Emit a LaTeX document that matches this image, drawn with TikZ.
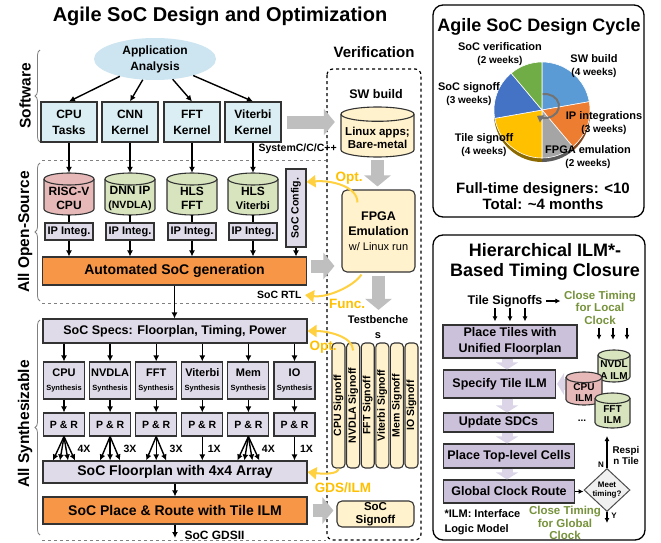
\documentclass[tikz,border=0pt]{standalone}
\usepackage{graphicx}
\usepackage{fontspec}
\setmainfont{Liberation Sans}
\usetikzlibrary{
    arrows.meta,
    positioning,
    calc,
    shapes.geometric,
    decorations.pathreplacing
}

\definecolor{swfill}{HTML}{DAEEF3}
\definecolor{appfill}{HTML}{CDE5F0}
\definecolor{cpufill}{HTML}{E6B9B8}
\definecolor{ipfill}{HTML}{D7E4BD}
\definecolor{lavfill}{HTML}{DFDBE8}
\definecolor{genfill}{HTML}{F79646}
\definecolor{verfill}{HTML}{FFF2CC}
\definecolor{grayarr}{HTML}{BFBFBF}
\definecolor{optcol}{HTML}{FFC000}
\definecolor{ilmfill}{HTML}{CCC1DA}
\definecolor{ilmarr}{HTML}{DCD5E8}
\definecolor{closecol}{HTML}{77933C}
\definecolor{pieA}{HTML}{5B9BD5}
\definecolor{pieB}{HTML}{ED7D31}
\definecolor{pieC}{HTML}{A5A5A5}
\definecolor{pieD}{HTML}{FFC000}
\definecolor{pieE}{HTML}{4472C4}
\definecolor{pieF}{HTML}{70AD47}

\newcommand{\fsz}[2]{\fontsize{#1}{#2}\selectfont}

% tube: [text options]{name}{x}{y}{width}{height}{fill}{text}
\newcommand{\tube}[8][]{%
  \pgfmathsetmacro{\ry}{3.5+0.05*#5}
  \pgfmathsetmacro{\rx}{#5/2}
  \filldraw[fill=#7, draw=black!80, line width=1.1pt]
    (#3-#5/2,#4+#6/2-\ry) -- (#3-#5/2,#4-#6/2+\ry)
    arc[start angle=180, end angle=360, x radius=\rx pt, y radius=\ry pt]
    -- (#3+#5/2,#4+#6/2-\ry)
    arc[start angle=0, end angle=180, x radius=\rx pt, y radius=\ry pt] -- cycle;
  \draw[draw=black!80, line width=1.1pt] (#3-#5/2,#4+#6/2-\ry)
    arc[start angle=180, end angle=360, x radius=\rx pt, y radius=\ry pt];
  \node[minimum width=#5pt, minimum height=#6pt, inner sep=0pt] (#2) at (#3,#4) {};
  \node[align=center, inner sep=0pt, font=\bfseries\fsz{12}{14}, #1] (#2txt) at (#3,#4-0.8*\ry) {#8};
}

\tikzset{
  blk/.style={draw=black!80, line width=1.1pt, align=center, inner sep=0pt, font=\bfseries},
  swbox/.style={blk, fill=swfill, minimum width=56pt, minimum height=40pt, font=\bfseries\fsz{12}{16}},
  integ/.style={blk, fill=lavfill, minimum width=48pt, minimum height=17pt, font=\bfseries\fsz{11}{12}},
  wide/.style={blk, minimum width=264pt, font=\bfseries\fsz{14}{16}},
  synth/.style={blk, fill=lavfill, minimum width=41pt, minimum height=37pt, font=\bfseries\fsz{11}{14}},
  pnr/.style={blk, fill=lavfill, minimum width=41pt, minimum height=23pt, font=\bfseries\fsz{10.5}{12}},
  ver/.style={blk, fill=verfill, rounded corners=5pt},
  sign/.style={ver, minimum width=13pt, minimum height=125pt, rounded corners=4pt, font=\bfseries\fsz{10.5}{12}},
  ilmbox/.style={blk, fill=ilmfill, font=\bfseries\fsz{12.5}{16}},
  arr/.style={line width=1.4pt, -{Latex[length=6pt,width=6pt]}},
  sarr/.style={line width=1.2pt, -{Latex[length=5pt,width=5pt]}},
  garr/.style={grayarr, line width=13pt, -{Triangle[length=11pt,width=26pt]}},
  larr/.style={ilmarr, line width=11pt, -{Triangle[length=7pt,width=22pt]}},
  yarr/.style={optcol!75, line width=2pt, -{Triangle[length=9pt,width=12pt]}},
  ylab/.style={text=optcol, font=\bfseries\fsz{13.5}{15}},
  lbl/.style={font=\bfseries\fsz{10.5}{12}},
  pielab/.style={font=\bfseries\fsz{11}{13}, align=center},
  secbrace/.style={draw=gray, line width=0.8pt, decorate, decoration={brace, amplitude=5pt}},
  secline/.style={draw=gray, dashed, line width=1pt},
  seclab/.style={rotate=90, font=\bfseries\fsz{15.5}{17}}
}

\begin{document}
\begin{tikzpicture}[x=1pt,y=1pt]

\fill[white] (0,0) rectangle (661,-543);
\useasboundingbox (0,0) rectangle (661,-543);

\node[font=\bfseries\fsz{20}{22}] (title) at (220,-16) {Agile SoC Design and Optimization};

% Sections
\draw[secbrace] (40,-142) -- (40,-50);
\node[seclab] (lsw) at (25,-96) {Software};
\draw[secbrace] (40,-301) -- (40,-163);
\node[seclab] (los) at (25,-232) {All Open-Source};
\draw[secbrace] (40,-535) -- (40,-320);
\node[seclab] (lsy) at (25,-424) {All Synthesizable};
\draw[secline] (42,-160) -- (326,-160);
\draw[secline] (42,-303) -- (326,-303);
\draw[secline] (42,-540) -- (326,-540);

% Software
\node[ellipse, fill=appfill, minimum width=122pt, minimum height=42pt, inner sep=0pt,
      align=center, font=\bfseries\fsz{12}{16}] (app) at (155,-59) {Application\\Analysis};
\node[swbox] (cput) at (69,-122) {CPU\\Tasks};
\node[swbox] (cnnk) at (130,-122) {CNN\\Kernel};
\node[swbox] (fftk) at (192,-122) {FFT\\Kernel};
\node[swbox] (vitk) at (253,-122) {Viterbi\\Kernel};
\foreach \n in {cput,cnnk,fftk,vitk}
  \draw[arr] (app) -- (\n.north);
\node[lbl, anchor=west] (sysc) at (255,-149) {SystemC/C/C++};

% Open-source IPs
\tube{riscv}{69}{-194}{50}{42}{cpufill}{RISC-V\\CPU}
\tube{dnnip}{130}{-194}{50}{42}{ipfill}{DNN IP\\{\fsz{10.5}{13}(NVDLA)}}
\tube{hlsfft}{192}{-194}{50}{42}{ipfill}{HLS\\FFT}
\tube{hlsvit}{253}{-194}{50}{42}{ipfill}{HLS\\{\fsz{11}{13}Viterbi}}
\node[blk, fill=lavfill, minimum width=20pt, minimum height=78pt,
      font=\bfseries\fsz{10.5}{12}] (cfg) at (296,-208) {\rotatebox{90}{SoC Config.}};
\node[wide, fill=genfill, minimum height=28pt] (gen) at (174.5,-271) {Automated SoC generation};
\node[lbl, anchor=east] (rtl) at (305,-295) {SoC RTL};

\foreach \s/\c/\n/\x in {cput/riscv/ii1/69, cnnk/dnnip/ii2/130, fftk/hlsfft/ii3/192, vitk/hlsvit/ii4/253}{
  \node[integ] (\n) at (\x,-231.5) {IP Integ.};
  \draw[arr] (\s.south) -- (\c.north);
  \draw[line width=1.1pt] (\c.south) -- (\n.north);
  \draw[arr] (\n.south) -- (\n.south |- gen.north);
}
\draw[arr] (cfg.south) -- (cfg.south |- gen.north);

% Synthesizable
\node[wide, fill=lavfill, minimum height=24pt, font=\bfseries\fsz{12.5}{14}] (specs) at (175,-331)
  {SoC Specs: Floorplan, Timing, Power};
\draw[arr] (gen.south) -- (gen.south |- specs.north);
\node[wide, fill=lavfill, minimum height=22pt] (fp) at (175,-472) {SoC Floorplan with 4x4 Array};
\node[wide, fill=genfill, minimum height=27pt] (spr) at (175,-510.5) {SoC Place \& Route with Tile ILM};
\draw[arr] (fp.south) -- (spr.north);
\coordinate (gdsii) at (175,-538);
\draw[arr] (spr.south) -- (gdsii);
\node[font=\bfseries\fsz{12}{13}, anchor=west] (gdslab) at (181,-535) {SoC GDSII};

\foreach \nm [count=\i from 0] in {CPU,NVDLA,FFT,Viterbi,Mem,IO}{
  \pgfmathsetmacro{\x}{64+46.1*\i}
  \node[synth] (syn\i) at (\x,-380.5) {\nm\\{\fsz{7.5}{9}Synthesis}};
  \node[pnr] (pnr\i) at (\x,-424.5) {P \& R};
  \draw[arr] (syn\i.north |- specs.south) -- (syn\i.north);
  \draw[arr] (syn\i.south) -- (pnr\i.north);
}

% fan out to tiles
\foreach \i in {0,4}
  \foreach \d in {-11,-4,4,11}
    \draw[arr] (pnr\i.south) -- ($(pnr\i.south |- fp.north)+(\d,0)$);
\foreach \i in {1,2}
  \foreach \d in {-10,0,10}
    \draw[arr] (pnr\i.south) -- ($(pnr\i.south |- fp.north)+(\d,0)$);
\foreach \i in {3,5}
  \draw[arr] (pnr\i.south) -- (pnr\i.south |- fp.north);
\foreach \i/\m in {0/4X,1/3X,2/3X,4/4X}
  \node[lbl, anchor=west] (mult\i) at ($(pnr\i.south)+(10,-12)$) {\m};
\foreach \i in {3,5}
  \node[lbl, anchor=west] (mult\i) at ($(pnr\i.south)+(2,-12)$) {1X};

% Verification
\node[font=\bfseries\fsz{15}{17}] (vtitle) at (374,-52) {Verification};
\draw[dashed, line width=1.2pt, rounded corners=6pt] (327,-69) rectangle (421,-540);
\node[font=\bfseries\fsz{12.5}{14}] (swlab) at (376,-94) {SW build};
\tube[font=\bfseries\fsz{11.5}{13}]{swcyl}{377.5}{-132}{73}{50}{verfill}{Linux apps;\\Bare-metal}
\node[ver, minimum width=73pt, minimum height=82pt, font=\bfseries\fsz{12.5}{15}] (fpga) at (378.5,-231)
  {FPGA\\Emulation\\{\mdseries\fsz{11}{14}w/ Linux run}};
\node[font=\bfseries\fsz{11}{15}, align=center] (tb) at (378,-327) {Testbenche\\s};
\foreach \nm [count=\i] in {CPU,NVDLA,FFT,Viterbi,Mem,IO}{
  \pgfmathsetmacro{\x}{338.5+14.6*(\i-1)}
  \node[sign] (so\i) at (\x,-405.5) {\rotatebox{90}{\nm\ Signoff}};
}
\node[ver, minimum width=77pt, minimum height=26pt, font=\bfseries\fsz{11.5}{13}] (socso) at (375.5,-514)
  {SoC\\Signoff};

% gray flow arrows
\draw[garr, shorten <=5pt, shorten >=6pt] (vitk.east) -- (vitk.east -| swcyl.west);
\draw[garr, shorten <=3pt, shorten >=3pt] (swcyl.south) -- (swcyl.south |- fpga.north);
\draw[garr, shorten <=4pt, shorten >=7pt] ([yshift=5pt]gen.east) -- ([yshift=5pt]gen.east -| fpga.west);
\draw[garr, shorten <=3pt, shorten >=2pt] (fpga.south) -- (fpga.south |- tb.north);
\draw[garr, shorten <=5pt, shorten >=3pt] (spr.east) -- (spr.east -| socso.west);

% feedback
\draw[yarr] ([shift={(16,-13)}]fpga.north west) .. controls +(0,16) and +(25,2) .. ([yshift=26pt]cfg.east);
\node[ylab] (opt1) at (349,-178) {Opt.};
\draw[yarr] ([shift={(20,-2)}]fpga.south west) .. controls +(-8,-12) and +(22,-3) .. (rtl.east);
\node[ylab] (func) at (347,-304) {Func.};
\draw[yarr] ([yshift=-8pt]so2.north) .. controls +(0,14) and +(20,0) .. (specs.east);
\node[ylab] (opt2) at (323,-347) {Opt.};
\draw[yarr] (so1.south) .. controls +(0,-6) and +(15,-2) .. (fp.east);
\node[ylab] (gdsilm) at (343,-488) {GDS/ILM};

% Design cycle
\draw[line width=1.3pt, rounded corners=10pt] (433,-5) rectangle (644,-217);
\node[font=\bfseries\fsz{18}{20}] (ctitle) at (539,-27) {Agile SoC Design Cycle};
\coordinate (pc) at (542,-110);
\foreach \a/\b/\c in {10/90/pieA,-50/10/pieB,-90/-50/pieC,-170/-90/pieD,130/190/pieE,90/130/pieF}
  \fill[\c!55!black] ($(pc)+(0,-4)$) -- ++(\a:48pt) arc[start angle=\a, end angle=\b, radius=48pt] -- cycle;
\foreach \a/\b/\c in {10/90/pieA,-50/10/pieB,-90/-50/pieC,-170/-90/pieD,130/190/pieE,90/130/pieF}
  \filldraw[fill=\c, draw=white, line width=0.6pt] (pc) -- ++(\a:48pt) arc[start angle=\a, end angle=\b, radius=48pt] -- cycle;
\draw[black!55, line width=2pt, -{Triangle[length=6pt,width=8pt]}]
  ($(pc)+(3,4)$) ++(100:14pt and 12pt) arc[start angle=100, end angle=-125, x radius=14pt, y radius=12pt];
\node[pielab] (lver) at (500,-54) {SoC verification\\{\fsz{10}{13}(2 weeks)}};
\node[pielab] (lsw) at (594,-66) {SW build\\{\fsz{10}{13}(4 weeks)}};
\node[pielab] (lsig) at (469,-94) {SoC signoff\\{\fsz{10}{13}(3 weeks)}};
\node[pielab] (lip) at (604,-123) {IP integrations\\{\fsz{10}{13}(3 weeks)}};
\node[pielab] (ltile) at (484,-145) {Tile signoff\\{\fsz{10}{13}(4 weeks)}};
\node[pielab] (lfpga) at (588,-157) {FPGA emulation\\{\fsz{10}{13}(2 weeks)}};
\node[font=\bfseries\fsz{15}{16}, align=center] (team) at (543,-196)
  {Full-time designers: <10\\Total: \textasciitilde 4 months};

% Timing closure
\draw[line width=1.3pt, rounded corners=10pt] (433,-235) rectangle (645,-540);
\node[font=\bfseries\fsz{18}{20}, align=center] (htitle) at (545,-262) {Hierarchical ILM*-\\Based Timing Closure};
\node[font=\bfseries\fsz{12.5}{14}] (tilesig) at (505,-301) {Tile Signoffs};
\node[font=\bfseries\fsz{11.5}{12.5}, text=closecol, align=center] (closel) at (600,-307.5)
  {Close Timing\\for Local\\Clock};
\draw[sarr] (tilesig.east) -- (tilesig.east -| closel.west);

\node[ilmbox, minimum width=134pt, minimum height=33pt] (ptiles) at (510,-341.5) {Place Tiles with\\Unified Floorplan};
\node[ilmbox, anchor=west, minimum width=112pt, minimum height=28pt] (stilm) at (443,-384) {Specify Tile ILM};
\node[ilmbox, anchor=west, minimum width=110pt, minimum height=19pt] (usdc) at (443,-422.5) {Update SDCs};
\node[ilmbox, anchor=west, minimum width=131pt, minimum height=24pt] (ptop) at (443,-456) {Place Top-level Cells};
\node[ilmbox, anchor=west, minimum width=131pt, minimum height=23pt] (gclk) at (443,-491.5) {Global Clock Route};
\foreach \a/\b in {ptiles/stilm, stilm/usdc, usdc/ptop, ptop/gclk}
  \draw[larr] ([xshift=-3pt]ptiles.south |- \a.south) -- ([xshift=-3pt]ptiles.south |- \b.north);

\foreach \d in {-15,0,15}
  \draw[sarr] ($(ptiles.north)+(\d,16)$) -- ($(ptiles.north)+(\d,3)$);

\tube[font=\bfseries\fsz{10}{11.5}]{nvilm}{614}{-366}{32}{32}{ipfill}{NVDL\\A ILM}
\tube[font=\bfseries\fsz{10}{11.5}]{cpuilm}{584}{-388.5}{36}{33}{cpufill}{CPU\\ILM}
\tube[font=\bfseries\fsz{10}{11.5}]{fftilm}{612.5}{-410.5}{35}{35}{ipfill}{FFT\\ILM}
\node[font=\bfseries\fsz{10}{12}] (dots) at (582,-421) {...};
\foreach \d in {-14,0,14}
  \draw[sarr] ($(nvilm.north)+(\d-1,22)$) -- ($(nvilm.north)+(\d-1,10)$);
\draw[larr, shorten <=1pt, shorten >=1pt] (cpuilm.west |- stilm.east) -- (stilm.east);

\node[diamond, draw=black!70, fill=black!6, line width=1pt, minimum width=46pt, minimum height=43pt,
      inner sep=0pt] (meet) at (607,-490) {};
\node[font=\bfseries\fsz{8}{9.5}, align=center] (meettxt) at (meet) {Meet\\timing?};
\draw[sarr] (gclk.east) -- (gclk.east -| meet.west);
\coordinate (respin) at (607,-436);
\coordinate (yes) at (607,-523);
\draw[sarr] (meet.north) -- (respin);
\draw[sarr] (meet.south) -- (yes);
\node[font=\bfseries\fsz{8}{9}] (nlab) at (601,-465) {N};
\node[font=\bfseries\fsz{8}{9}] (ylab) at (614,-516) {Y};
\node[font=\bfseries\fsz{9.8}{11}, align=center] (respinlab) at (626,-455.5) {Respi\\n Tile};
\node[font=\bfseries\fsz{11.5}{12.5}, text=closecol, align=center] (closeg) at (565,-523)
  {Close Timing\\for Global\\Clock};
\node[font=\bfseries\fsz{11}{15}, align=left, anchor=west] (ilmnote) at (441,-522.5)
  {*ILM: Interface\\Logic Model};

\end{tikzpicture}
\end{document}
